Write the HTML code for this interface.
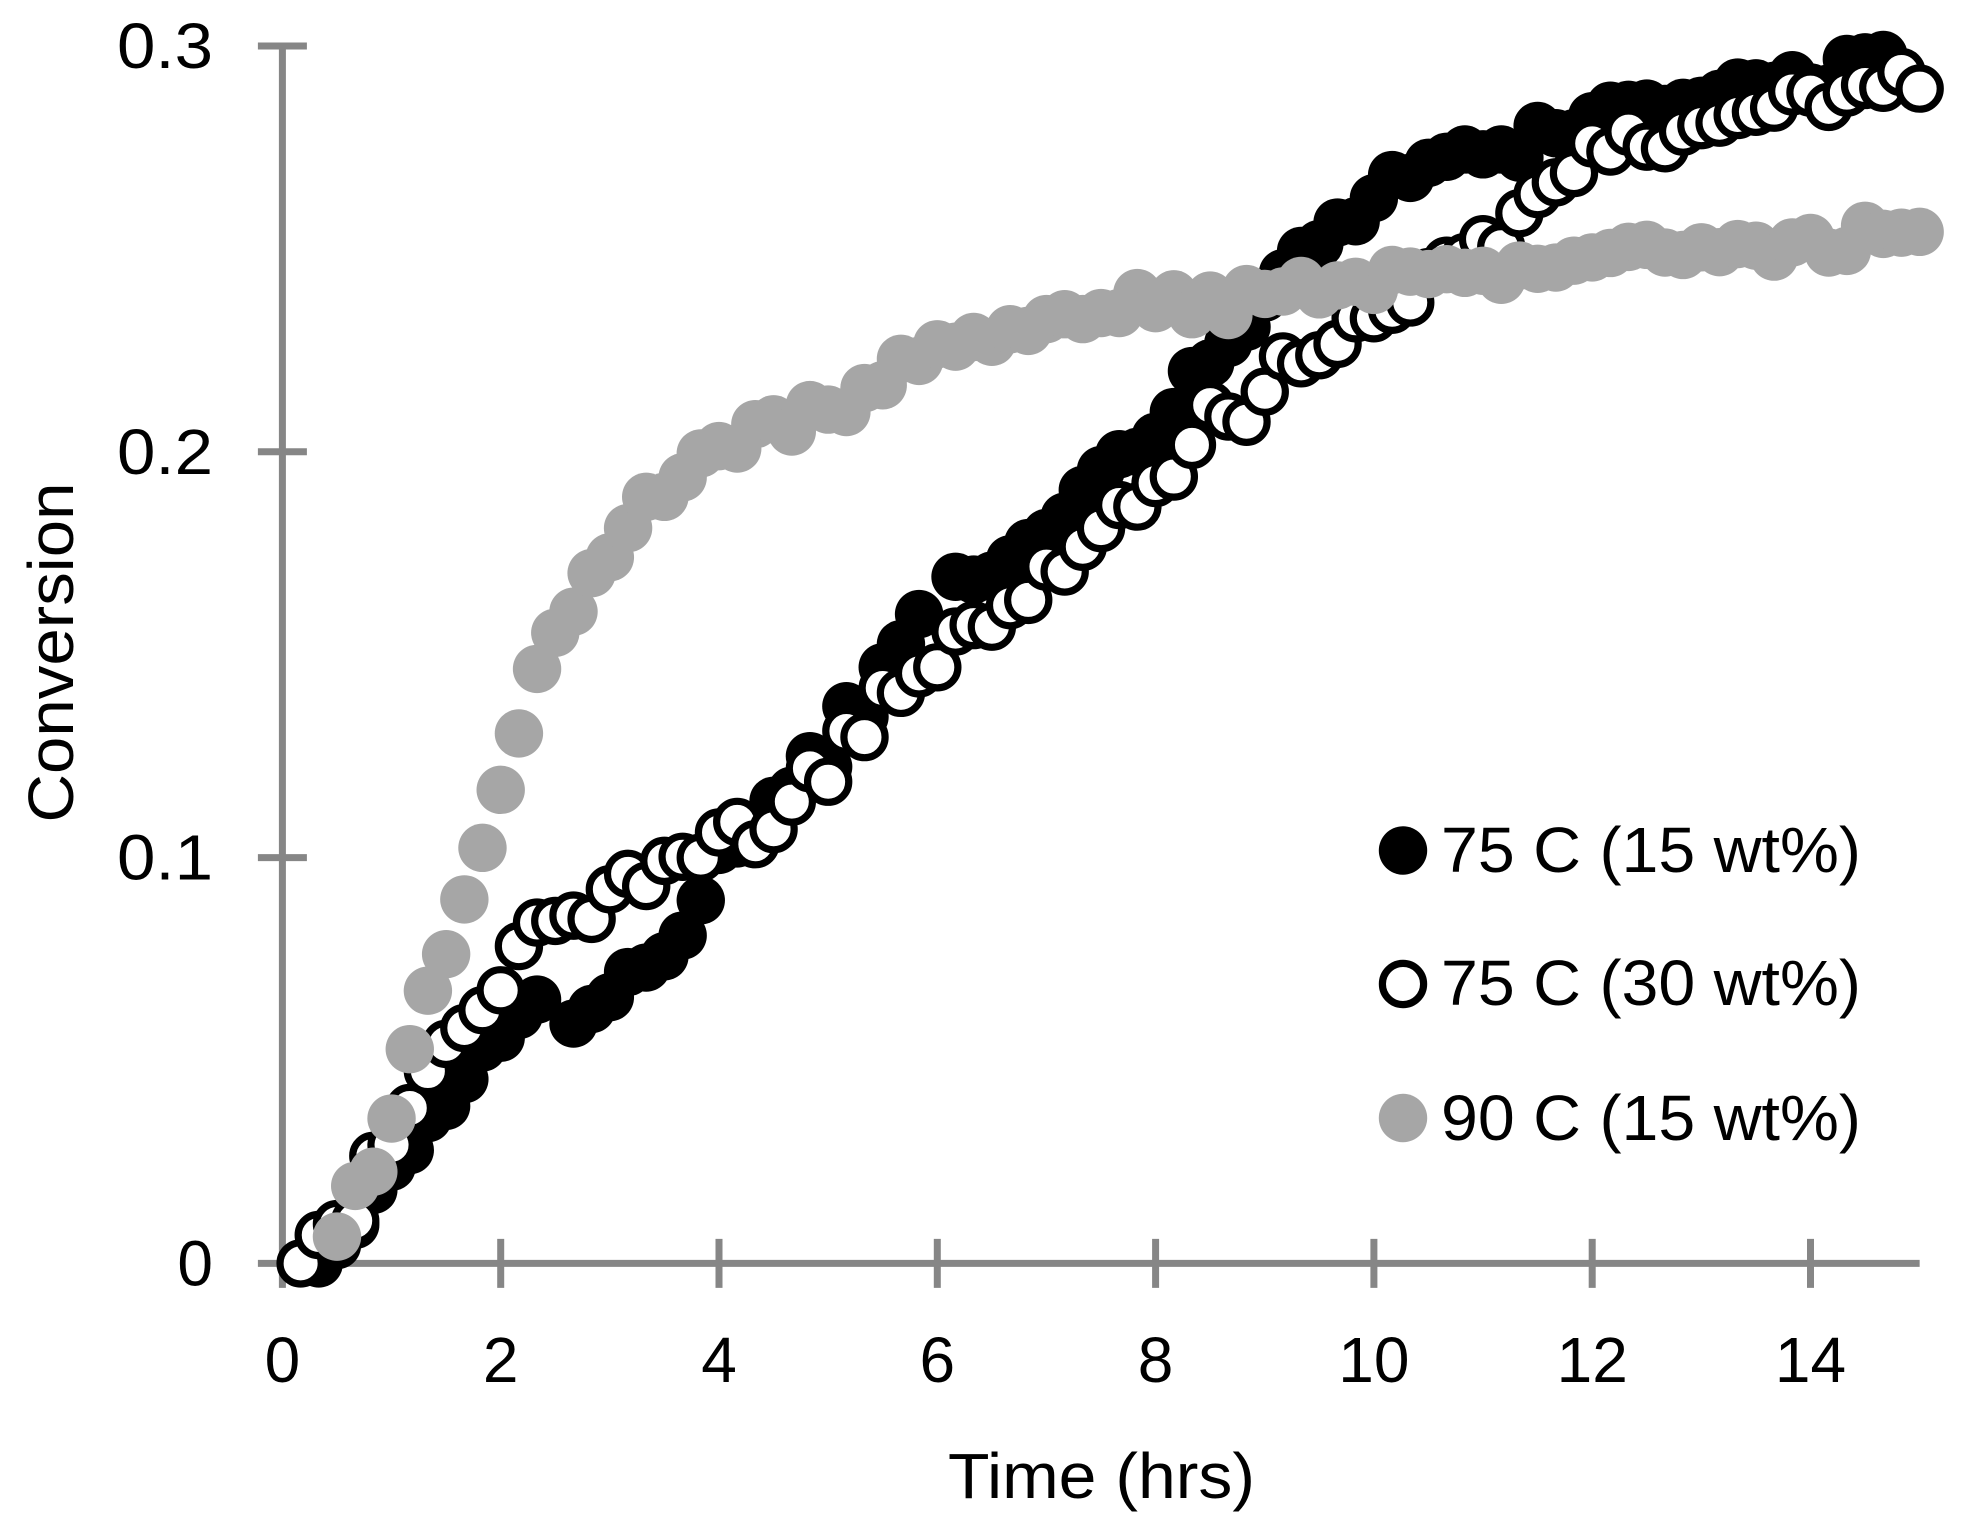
<!DOCTYPE html>
<html lang="en">
<head>
<meta charset="utf-8">
<title>Conversion vs Time</title>
<style>
html,body{margin:0;padding:0;background:#fff;}
svg{display:block;}
text{font-family:"Liberation Sans",sans-serif;font-size:64px;fill:#000;}
</style>
</head>
<body>
<svg id="chart" width="1964" height="1519" viewBox="0 0 1964 1519" xmlns="http://www.w3.org/2000/svg">
  <rect x="0" y="0" width="1964" height="1519" fill="#ffffff"/>
  <g id="axes"></g>
  <g id="series-black"></g>
  <g id="series-white"></g>
  <g id="series-gray"></g>
  <text transform="translate(73,822.5) rotate(-90)" textLength="340" lengthAdjust="spacingAndGlyphs">Conversion</text>
  <text x="948" y="1498" textLength="307" lengthAdjust="spacingAndGlyphs">Time (hrs)</text>
  <g id="legend">
    <circle cx="1403" cy="850.5" r="24.2" fill="#000000"/>
    <text x="1441" y="872" textLength="420" lengthAdjust="spacingAndGlyphs">75 C (15 wt%)</text>
    <circle cx="1403" cy="984" r="20.6" fill="#ffffff" stroke="#000000" stroke-width="7.2"/>
    <text x="1441" y="1005" textLength="420" lengthAdjust="spacingAndGlyphs">75 C (30 wt%)</text>
    <circle cx="1403" cy="1118" r="24.2" fill="#a6a6a6"/>
    <text x="1441" y="1140" textLength="420" lengthAdjust="spacingAndGlyphs">90 C (15 wt%)</text>
  </g>
</svg>
<script>
const timeHours = [
  0.167,0.333,0.5,0.667,0.833,1.0,
  1.167,1.333,1.5,1.667,1.833,2.0,
  2.167,2.333,2.5,2.667,2.833,3.0,
  3.167,3.333,3.5,3.667,3.833,4.0,
  4.167,4.333,4.5,4.667,4.833,5.0,
  5.167,5.333,5.5,5.667,5.833,6.0,
  6.167,6.333,6.5,6.667,6.833,7.0,
  7.167,7.333,7.5,7.667,7.833,8.0,
  8.167,8.333,8.5,8.667,8.833,9.0,
  9.167,9.333,9.5,9.667,9.833,10.0,
  10.167,10.333,10.5,10.667,10.833,11.0,
  11.167,11.333,11.5,11.667,11.833,12.0,
  12.167,12.333,12.5,12.667,12.833,13.0,
  13.167,13.333,13.5,13.667,13.833,14.0,
  14.167,14.333,14.5,14.667,14.833,15.0
];
const conversion75c15wt = [
  null,0.0000,0.0045,0.0095,0.0181,0.0238,
  0.0279,0.0358,0.0388,0.0454,0.0532,0.0556,
  0.0612,0.0650,null,0.0591,0.0627,0.0656,
  0.0718,0.0729,0.0757,0.0808,0.0895,0.1019,
  0.1035,0.1060,0.1140,0.1165,0.1250,0.1224,
  0.1373,0.1347,0.1469,0.1526,0.1600,null,
  0.1692,0.1685,0.1695,0.1735,0.1775,0.1800,
  0.1840,0.1906,0.1955,0.1994,0.2000,0.2037,
  0.2098,0.2199,0.2218,0.2268,0.2308,0.2380,
  0.2440,0.2495,0.2512,0.2565,0.2568,0.2625,
  0.2682,0.2675,0.2712,0.2727,0.2745,0.2733,
  0.2745,0.2725,0.2803,0.2785,0.2785,0.2827,
  0.2853,0.2855,0.2858,0.2845,0.2860,0.2865,
  0.2882,0.2910,0.2908,0.2902,0.2928,0.2898,
  0.2895,0.2968,0.2972,0.2978,null,null
];
const conversion75c30wt = [
  0.0000,0.0070,0.0097,0.0105,0.0265,0.0292,
  0.0383,0.0474,0.0541,0.0580,0.0624,0.0673,
  0.0782,0.0840,0.0844,0.0857,0.0849,0.0922,
  0.0960,0.0930,0.0992,0.1002,0.1000,0.1062,
  0.1088,0.1033,0.1070,0.1138,0.1220,0.1187,
  0.1312,0.1297,0.1418,0.1406,0.1454,0.1469,
  0.1557,0.1573,0.1569,0.1622,0.1635,0.1717,
  0.1705,0.1766,0.1812,0.1869,0.1865,0.1923,
  0.1939,0.2017,0.2115,0.2087,0.2074,0.2148,
  0.2235,0.2218,0.2238,0.2266,0.2329,0.2329,
  0.2350,0.2368,0.2443,0.2471,0.2480,0.2524,
  0.2504,0.2588,0.2635,0.2664,0.2687,0.2760,
  0.2740,0.2789,0.2752,0.2748,0.2789,0.2805,
  0.2811,0.2830,0.2838,0.2848,0.2888,0.2885,
  0.2850,0.2885,0.2904,0.2897,0.2936,0.2895
];
const conversion90c15wt = [
  null,null,0.0066,0.0191,0.0226,0.0357,
  0.0528,0.0672,0.0762,0.0897,0.1024,0.1167,
  0.1306,0.1465,0.1554,0.1606,0.1701,0.1740,
  0.1812,0.1889,0.1889,0.1937,0.1996,0.2014,
  0.2008,0.2068,0.2080,0.2050,0.2115,0.2104,
  0.2098,0.2157,0.2164,0.2229,0.2224,0.2265,
  0.2259,0.2283,0.2271,0.2302,0.2298,0.2327,
  0.2339,0.2327,0.2342,0.2342,0.2391,0.2354,
  0.2388,0.2339,0.2385,0.2337,0.2401,0.2389,
  0.2395,0.2421,0.2388,0.2410,0.2419,0.2399,
  0.2448,0.2444,0.2438,0.2450,0.2441,0.2446,
  0.2424,0.2459,0.2451,0.2454,0.2471,0.2479,
  0.2490,0.2505,0.2510,0.2491,0.2485,0.2504,
  0.2492,0.2512,0.2508,0.2481,0.2516,0.2527,
  0.2491,0.2495,0.2557,0.2537,0.2540,0.2542
];
const xTickValues = [0,2,4,6,8,10,12,14];
const xTickLabels = ["0","2","4","6","8","10","12","14"];
const yTickValues = [0,0.1,0.2,0.3];
const yTickLabels = ["0","0.1","0.2","0.3"];
const xAxisMax = 15;

const SVG_NS = "http://www.w3.org/2000/svg";
function xScale(t){ return 282.4 + 109.15 * t; }
function yScale(v){ return 1263.4 - 4058 * v; }

function svgEl(tag, attrs){
  const el = document.createElementNS(SVG_NS, tag);
  for (const k in attrs) el.setAttribute(k, attrs[k]);
  return el;
}

const AXIS_GRAY = "#868686";
const axes = document.getElementById("axes");

const xLine = svgEl("line", {x1: xScale(0) - 24.5, y1: yScale(0), x2: xScale(xAxisMax), y2: yScale(0), stroke: AXIS_GRAY, "stroke-width": 7});


axes.appendChild(xLine);

const yLine = svgEl("line", {x1: xScale(0), y1: yScale(0.3) - 3.5, x2: xScale(0), y2: yScale(0) + 24.5, stroke: AXIS_GRAY, "stroke-width": 7});


axes.appendChild(yLine);

xTickValues.forEach(function(t, i){
  const px = xScale(t);
  if (t !== 0) {
    const tick = svgEl("line", {x1: px, y1: yScale(0) - 24.5, x2: px, y2: yScale(0) + 24.5, stroke: AXIS_GRAY, "stroke-width": 7});
    
    
    axes.appendChild(tick);
  }
  const label = svgEl("text", {x: px, y: 1382, "text-anchor": "middle"});
  
  
  label.textContent = xTickLabels[i];
  axes.appendChild(label);
});

yTickValues.forEach(function(v, i){
  const py = yScale(v);
  if (v !== 0) {
    const tick = svgEl("line", {x1: xScale(0) - 24.5, y1: py, x2: xScale(0) + 24.5, y2: py, stroke: AXIS_GRAY, "stroke-width": 7});
    
    
    axes.appendChild(tick);
  }
  const label = svgEl("text", {x: 213, y: py + 22, "text-anchor": "end"});
  
  
  if (yTickLabels[i].length > 1) {
    label.setAttribute("textLength", "96");
    label.setAttribute("lengthAdjust", "spacingAndGlyphs");
  }
  label.textContent = yTickLabels[i];
  axes.appendChild(label);
});

function drawSeries(groupId, values, attrs){
  const g = document.getElementById(groupId);
  values.forEach(function(v, i){
    if (v === null) return;
    const c = svgEl("circle", Object.assign({cx: xScale(timeHours[i]), cy: yScale(v)}, attrs));
    
    
    g.appendChild(c);
  });
}
drawSeries("series-black", conversion75c15wt, {r: 24.2, fill: "#000000"});
drawSeries("series-white", conversion75c30wt, {r: 20.6, fill: "#ffffff", stroke: "#000000", "stroke-width": 7.2});
drawSeries("series-gray", conversion90c15wt, {r: 24.2, fill: "#a6a6a6"});
</script>
</body>
</html>
